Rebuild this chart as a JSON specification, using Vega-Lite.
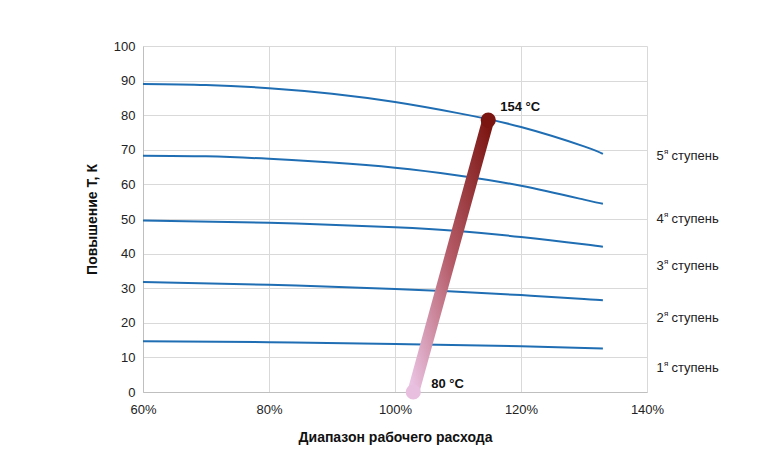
{
  "$schema": "https://vega.github.io/schema/vega-lite/v6.json",
  "width": 504,
  "height": 346,
  "autosize": {"type": "none"},
  "padding": {"left": 143, "top": 46, "right": 127, "bottom": 74},
  "background": "white",
  "config": {
    "font": "Liberation Sans",
    "view": {"stroke": null},
    "axis": {
      "gridColor": "#d9d9d9",
      "domainColor": "#bfbfbf",
      "ticks": false,
      "labelFont": "Liberation Sans",
      "labelFontSize": 13,
      "labelColor": "#222222",
      "labelOverlap": false,
      "labelFlush": false,
      "titleFont": "Liberation Sans",
      "titleFontSize": 14,
      "titleFontWeight": "bold",
      "titleColor": "#111111"
    }
  },
  "datasets": {
    "curves": [
      {"s": 5, "x": 0.6, "y": 89}, {"s": 5, "x": 0.7, "y": 88.7}, {"s": 5, "x": 0.8, "y": 87.8}, {"s": 5, "x": 0.9, "y": 86.2}, {"s": 5, "x": 1.0, "y": 83.8}, {"s": 5, "x": 1.1, "y": 80.6}, {"s": 5, "x": 1.2, "y": 76.6}, {"s": 5, "x": 1.3, "y": 71.0}, {"s": 5, "x": 1.33, "y": 68.8},
      {"s": 4, "x": 0.6, "y": 68.3}, {"s": 4, "x": 0.7, "y": 68.1}, {"s": 4, "x": 0.8, "y": 67.4}, {"s": 4, "x": 0.9, "y": 66.3}, {"s": 4, "x": 1.0, "y": 64.8}, {"s": 4, "x": 1.1, "y": 62.6}, {"s": 4, "x": 1.2, "y": 59.6}, {"s": 4, "x": 1.3, "y": 55.6}, {"s": 4, "x": 1.33, "y": 54.4},
      {"s": 3, "x": 0.6, "y": 49.6}, {"s": 3, "x": 0.8, "y": 48.9}, {"s": 3, "x": 1.0, "y": 47.6}, {"s": 3, "x": 1.1, "y": 46.5}, {"s": 3, "x": 1.2, "y": 44.8}, {"s": 3, "x": 1.3, "y": 42.7}, {"s": 3, "x": 1.33, "y": 42},
      {"s": 2, "x": 0.6, "y": 31.8}, {"s": 2, "x": 0.8, "y": 31}, {"s": 2, "x": 1.0, "y": 29.8}, {"s": 2, "x": 1.1, "y": 29}, {"s": 2, "x": 1.2, "y": 28}, {"s": 2, "x": 1.3, "y": 26.9}, {"s": 2, "x": 1.33, "y": 26.5},
      {"s": 1, "x": 0.6, "y": 14.7}, {"s": 1, "x": 0.8, "y": 14.4}, {"s": 1, "x": 1.0, "y": 13.9}, {"s": 1, "x": 1.2, "y": 13.2}, {"s": 1, "x": 1.33, "y": 12.6}
    ],
    "stages": [
      {"x": 1.415, "y": 68.2, "num": "5", "sup": "я", "word": "ступень"},
      {"x": 1.415, "y": 50, "num": "4", "sup": "я", "word": "ступень"},
      {"x": 1.415, "y": 36.4, "num": "3", "sup": "я", "word": "ступень"},
      {"x": 1.415, "y": 21.4, "num": "2", "sup": "я", "word": "ступень"},
      {"x": 1.415, "y": 6.9, "num": "1", "sup": "я", "word": "ступень"}
    ],
    "marker": [
      {"x": 1.029, "y": 0, "end": "low", "label": "80 °C"},
      {"x": 1.148, "y": 78.6, "end": "high", "label": "154 °C"}
    ]
  },
  "encoding": {
    "x": {"field": "x", "type": "quantitative", "scale": {"domain": [0.6, 1.4], "nice": false}, "axis": {"format": ".0%", "values": [0.6, 0.8, 1.0, 1.2, 1.4], "tickCount": 20, "labelPadding": 11, "title": "Диапазон рабочего расхода", "titlePadding": 14}},
    "y": {"field": "y", "type": "quantitative", "scale": {"domain": [0, 100], "nice": false}, "axis": {"values": [0, 10, 20, 30, 40, 50, 60, 70, 80, 90, 100], "tickCount": 20, "labelPadding": 8, "title": "Повышение Т, К", "titlePadding": 14}}
  },
  "layer": [
    {
      "data": {"name": "curves"},
      "mark": {"type": "line", "interpolate": "natural", "color": "#1f6db3", "strokeWidth": 2},
      "encoding": {
        "detail": {"field": "s", "type": "nominal"}
      }
    },
    {
      "data": {"name": "marker"},
      "mark": {
        "type": "line",
        "strokeWidth": 12,
        "strokeCap": "round",
        "stroke": {
          "gradient": "linear",
          "x1": 0, "y1": 1, "x2": 1, "y2": 0,
          "stops": [
            {"offset": 0, "color": "#eac3e3"},
            {"offset": 0.5, "color": "#b45a66"},
            {"offset": 1, "color": "#7b1511"}
          ]
        }
      },
      "encoding": {}
    },
    {
      "data": {"name": "marker"},
      "mark": {"type": "circle", "opacity": 1, "size": 230},
      "encoding": {
        "color": {"field": "end", "type": "nominal", "scale": {"domain": ["low", "high"], "range": ["#e8bfdf", "#7b1511"]}, "legend": null}
      }
    },
    {
      "data": {"name": "marker"},
      "transform": [{"filter": "datum.end == 'high'"}],
      "mark": {"type": "text", "align": "left", "baseline": "middle", "dx": 12, "dy": -13, "fontSize": 13, "fontWeight": "bold", "color": "#111111"},
      "encoding": {
        "text": {"field": "label"}
      }
    },
    {
      "data": {"name": "marker"},
      "transform": [{"filter": "datum.end == 'low'"}],
      "mark": {"type": "text", "align": "left", "baseline": "middle", "dx": 18, "dy": -8, "fontSize": 13, "fontWeight": "bold", "color": "#111111"},
      "encoding": {
        "text": {"field": "label"}
      }
    },
    {
      "data": {"name": "stages"},
      "mark": {"type": "text", "align": "left", "baseline": "middle", "fontSize": 13, "color": "#222222"},
      "encoding": {
        "text": {"field": "num"}
      }
    },
    {
      "data": {"name": "stages"},
      "mark": {"type": "text", "align": "left", "baseline": "middle", "fontSize": 8, "dx": 7.5, "dy": -4, "color": "#222222"},
      "encoding": {
        "text": {"field": "sup"}
      }
    },
    {
      "data": {"name": "stages"},
      "mark": {"type": "text", "align": "left", "baseline": "middle", "fontSize": 13, "dx": 15, "color": "#222222"},
      "encoding": {
        "text": {"field": "word"}
      }
    }
  ]
}
